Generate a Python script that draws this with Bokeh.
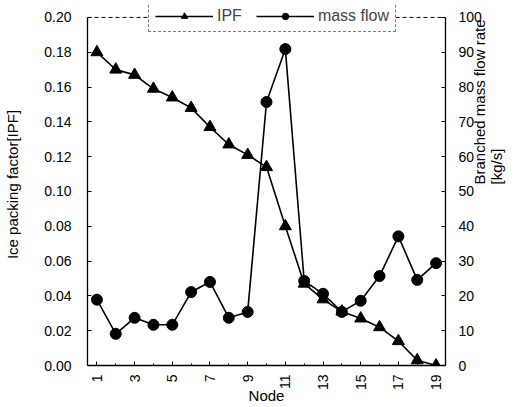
import math
from bokeh.plotting import figure
from bokeh.models import (Range1d, LinearAxis, FixedTicker, Legend, LegendItem,
                          ColumnDataSource, NumeralTickFormatter, Span)
from bokeh.embed import file_html
from bokeh.resources import INLINE

nodes = list(range(1, 20))
ipf = [0.180, 0.170, 0.167, 0.159, 0.154, 0.148, 0.137, 0.127, 0.121, 0.114,
       0.080, 0.047, 0.038, 0.031, 0.027, 0.022, 0.014, 0.003, 0.000]
mass_flow = [18.9, 9.1, 13.7, 11.7, 11.7, 21.1, 24.0, 13.7, 15.4, 75.7,
             90.9, 24.3, 20.6, 15.4, 18.6, 25.7, 37.1, 24.6, 29.4]
x_ticks = [1, 3, 5, 7, 9, 11, 13, 15, 17, 19]
x_minor = [2, 4, 6, 8, 10, 12, 14, 16, 18]
left_ticks = [0.0, 0.02, 0.04, 0.06, 0.08, 0.10, 0.12, 0.14, 0.16, 0.18, 0.20]
right_ticks = [0, 10, 20, 30, 40, 50, 60, 70, 80, 90, 100]
ipf_max = 0.20
flow_max = 100

FONT = "Liberation Sans"

p = figure(width=516, height=407, output_backend="svg", toolbar_location=None,
           x_range=Range1d(0.5, 19.5), y_range=Range1d(0, 0.208),
           min_border_left=87, min_border_right=71, min_border_top=3, min_border_bottom=40)
p.extra_y_ranges = {"flow": Range1d(0, 104)}
p.grid.visible = False
p.outline_line_color = None
p.background_fill_color = "white"
p.border_fill_color = "white"

# top border of the frame (dashed, partly hidden by legend)
p.add_layout(Span(location=ipf_max, dimension="width", line_color="black",
                  line_width=1, line_dash="4 3"))

src = ColumnDataSource(dict(x=nodes, ipf=ipf, flow=mass_flow))

l1 = p.line("x", "ipf", source=src, line_color="black", line_width=1.6)
m1 = p.scatter("x", "ipf", source=src, marker="triangle", size=12, color="black")
l2 = p.line("x", "flow", source=src, line_color="black", line_width=1.6, y_range_name="flow")
m2 = p.scatter("x", "flow", source=src, marker="circle", size=11, color="black", y_range_name="flow")

p.xaxis.ticker = FixedTicker(ticks=x_ticks, minor_ticks=x_minor)
p.xaxis.major_label_orientation = math.pi / 2
p.xaxis.axis_label = "Node"
p.yaxis.ticker = FixedTicker(ticks=left_ticks)
p.yaxis.formatter = NumeralTickFormatter(format="0.00")
p.yaxis.axis_label = "Ice packing factor[IPF]"
p.yaxis.bounds = (0, ipf_max)

ra = LinearAxis(y_range_name="flow", ticker=FixedTicker(ticks=right_ticks),
                axis_label="Branched mass flow rate", bounds=(0, flow_max))
p.add_layout(ra, "right")
# second (tick-less) right axis carrying the unit line of the title
ra2 = LinearAxis(y_range_name="flow", ticker=FixedTicker(ticks=[]),
                 axis_label="[kg/s]", bounds=(0, flow_max))
p.add_layout(ra2, "right")
for a in (ra, ra2):
    try:
        a.axis_label_orientation = math.pi / 2
    except Exception:
        pass

for ax in [p.xaxis[0], p.yaxis[0], ra, ra2]:
    ax.major_tick_in = 4
    ax.major_tick_out = 0
    ax.minor_tick_in = 2
    ax.minor_tick_out = 0
    ax.axis_line_color = "black"
    ax.axis_line_width = 1.3
    ax.major_label_text_font = FONT
    ax.major_label_text_font_size = "14px"
    ax.major_label_text_color = "black"
    ax.axis_label_text_font = FONT
    ax.axis_label_text_font_size = "15px"
    ax.axis_label_text_font_style = "normal"
    ax.axis_label_text_color = "black"
p.yaxis[0].minor_tick_in = 0
ra.minor_tick_in = 0
ra2.major_tick_in = 0
ra2.minor_tick_in = 0
ra2.axis_line_color = None
ra2.major_label_standoff = 0
p.yaxis.major_label_standoff = 16
ra.major_label_standoff = 13
p.xaxis.major_label_standoff = 9
p.xaxis.axis_label_standoff = -6
p.yaxis.axis_label_standoff = 20
ra.axis_label_standoff = -5
ra2.axis_label_standoff = -3

legend = Legend(items=[LegendItem(label="IPF", renderers=[l1, m1]),
                       LegendItem(label="mass flow", renderers=[l2, m2])],
                orientation="horizontal", location=(61, 333),
                border_line_color="black", border_line_dash="4 3", border_line_width=1,
                background_fill_color="white", background_fill_alpha=1,
                label_text_font=FONT, label_text_font_size="16px",
                glyph_width=58, glyph_height=16, spacing=14, padding=6, margin=0,
                label_standoff=4)
p.add_layout(legend, "center")

open("out.html", "w").write(file_html(p, INLINE))
